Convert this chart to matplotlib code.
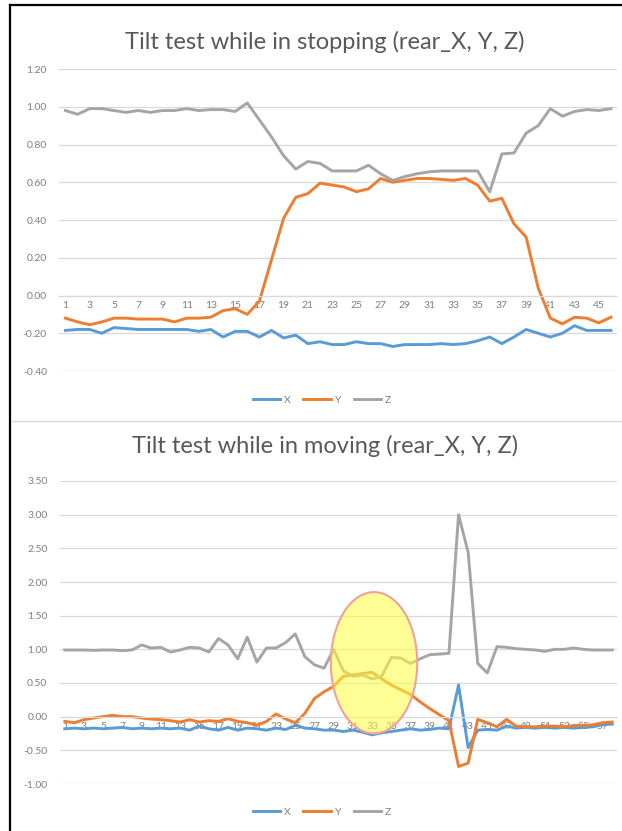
import matplotlib
matplotlib.use('Agg')
import matplotlib.pyplot as plt
from matplotlib.patches import Ellipse
from matplotlib.lines import Line2D

plt.rcParams['font.family'] = ['Lato', 'DejaVu Sans']
plt.rcParams['axes.unicode_minus'] = False

# chart 1: stopping (46 samples)
x_stop = [-0.185, -0.18, -0.18, -0.20, -0.17, -0.175, -0.18, -0.18, -0.18, -0.18,
          -0.18, -0.19, -0.18, -0.22, -0.19, -0.19, -0.22, -0.185, -0.225, -0.21,
          -0.255, -0.245, -0.26, -0.26, -0.245, -0.255, -0.255, -0.27, -0.26, -0.26,
          -0.26, -0.255, -0.26, -0.255, -0.24, -0.22, -0.255, -0.22, -0.18, -0.20,
          -0.22, -0.20, -0.16, -0.185, -0.185, -0.185]
y_stop = [-0.12, -0.14, -0.155, -0.14, -0.12, -0.12, -0.125, -0.125, -0.125, -0.14,
          -0.12, -0.12, -0.115, -0.08, -0.07, -0.10, -0.03, 0.19, 0.41, 0.52,
          0.54, 0.595, 0.585, 0.575, 0.55, 0.565, 0.62, 0.60, 0.61, 0.62,
          0.62, 0.615, 0.61, 0.62, 0.585, 0.50, 0.515, 0.38, 0.31, 0.04,
          -0.12, -0.15, -0.115, -0.12, -0.145, -0.115]
z_stop = [0.98, 0.96, 0.99, 0.99, 0.98, 0.97, 0.98, 0.97, 0.98, 0.98,
          0.99, 0.98, 0.985, 0.985, 0.975, 1.02, 0.93, 0.84, 0.74, 0.67,
          0.71, 0.70, 0.66, 0.66, 0.66, 0.69, 0.645, 0.61, 0.63, 0.645,
          0.655, 0.66, 0.66, 0.66, 0.66, 0.55, 0.75, 0.755, 0.86, 0.90,
          0.99, 0.95, 0.975, 0.985, 0.98, 0.99]

# chart 2: moving (58 samples)
x_move = [-0.18, -0.17, -0.18, -0.17, -0.18, -0.17, -0.16, -0.18, -0.17, -0.18,
          -0.17, -0.18, -0.17, -0.20, -0.14, -0.18, -0.20, -0.16, -0.20, -0.17,
          -0.18, -0.20, -0.17, -0.19, -0.13, -0.17, -0.18, -0.20, -0.20, -0.22,
          -0.20, -0.23, -0.27, -0.24, -0.22, -0.20, -0.18, -0.20, -0.19, -0.17,
          -0.18, 0.47, -0.46, -0.20, -0.19, -0.20, -0.14, -0.17, -0.16, -0.17,
          -0.16, -0.17, -0.16, -0.17, -0.16, -0.15, -0.12, -0.11]
y_move = [-0.07, -0.09, -0.045, -0.02, 0.0, 0.02, 0.0, 0.0, -0.02, -0.035,
          -0.045, -0.06, -0.08, -0.045, -0.08, -0.06, -0.07, -0.03, -0.07, -0.09,
          -0.13, -0.07, 0.04, -0.035, -0.09, 0.05, 0.27, 0.37, 0.45, 0.60,
          0.62, 0.64, 0.66, 0.56, 0.47, 0.40, 0.33, 0.22, 0.12, 0.03,
          -0.06, -0.74, -0.69, -0.04, -0.09, -0.15, -0.04, -0.14, -0.15, -0.15,
          -0.14, -0.14, -0.15, -0.13, -0.13, -0.12, -0.09, -0.08]
z_move = [0.99, 0.99, 0.99, 0.985, 0.99, 0.99, 0.98, 0.99, 1.065, 1.02,
          1.03, 0.96, 0.99, 1.03, 1.02, 0.96, 1.16, 1.065, 0.86, 1.18,
          0.81, 1.02, 1.02, 1.10, 1.23, 0.89, 0.77, 0.72, 1.0, 0.68,
          0.60, 0.62, 0.56, 0.60, 0.88, 0.87, 0.79, 0.86, 0.92, 0.93,
          0.94, 3.0, 2.44, 0.79, 0.65, 1.04, 1.03, 1.01, 1.0, 0.99,
          0.97, 1.0, 1.0, 1.02, 1.0, 0.99, 0.99, 0.99]

titles = ['Tilt test while in stopping (rear_X, Y, Z)',
          'Tilt test while in moving (rear_X, Y, Z)']
colors = {'X': '#5B9BD5', 'Y': '#ED7D31', 'Z': '#A5A5A5'}
txt = '#7F7F7F'

W, H = 622, 831
fig = plt.figure(figsize=(W / 100, H / 100), dpi=100)


def make_chart(rect, series, ylim, step, title, title_y, legend_y):
    ax = fig.add_axes(rect)
    n = len(series[0][1])
    cats = list(range(1, n + 1))
    for name, vals in series:
        ax.plot(cats, vals, color=colors[name], lw=2.1, label=name,
                solid_joinstyle='round')
    ax.set_xlim(0.5, n + 0.5)
    ax.set_ylim(*ylim)
    ticks = []
    v = ylim[0]
    while v <= ylim[1] + 1e-9:
        ticks.append(round(v, 2))
        v += step
    ax.set_yticks(ticks)
    ax.set_yticklabels(['%.2f' % t for t in ticks])
    ax.set_xticks(cats[::2])
    ax.set_xticklabels([str(c) for c in cats[::2]])
    ax.grid(axis='y', color='#D9D9D9', lw=0.9)
    for s in ['top', 'right', 'left']:
        ax.spines[s].set_visible(False)
    ax.spines['bottom'].set_position(('data', 0))
    ax.spines['bottom'].set_color('#D9D9D9')
    ax.tick_params(length=0, labelsize=7.5, labelcolor=txt)
    ax.tick_params(axis='y', pad=9)
    ax.tick_params(axis='x', pad=4)
    fig.text(325 / W, 1 - title_y / H, title, ha='center', va='center',
             fontsize=17, color='#595959')
    fig.legend(*ax.get_legend_handles_labels(), loc='center',
               bbox_to_anchor=(322 / W, 1 - legend_y / H), ncol=3,
               frameon=False, fontsize=7.5, handlelength=2.6,
               handletextpad=0.4, columnspacing=1.2, labelcolor=txt)
    return ax


ax1 = make_chart([59.4 / W, 1 - 371 / H, (617 - 59.4) / W, (371 - 69) / H],
                 [('X', x_stop), ('Y', y_stop), ('Z', z_stop)],
                 (-0.4, 1.2), 0.2, titles[0], 42, 400)

ax2 = make_chart([60 / W, 1 - 784 / H, (617 - 60) / W, (784 - 481) / H],
                 [('X', x_move), ('Y', y_move), ('Z', z_move)],
                 (-1.0, 3.5), 0.5, titles[1], 446, 812)

# highlighted region in the moving test
ax2.add_patch(Ellipse((33.2, 0.80), 9.0, 2.1, facecolor=(1.0, 1.0, 0.25, 0.55),
                      edgecolor='#F2A09A', lw=1.5, zorder=4))

# frame and separator
fig.add_artist(Line2D([10 / W, 1], [1 - 5 / H, 1 - 5 / H], color='black', lw=1.6))
fig.add_artist(Line2D([10 / W, 10 / W], [0, 1 - 5 / H], color='black', lw=1.6))
fig.add_artist(Line2D([12 / W, 1], [1 - 421 / H, 1 - 421 / H], color='#D9D9D9', lw=1.0))

fig.savefig('out.png', dpi=100, facecolor='white')
